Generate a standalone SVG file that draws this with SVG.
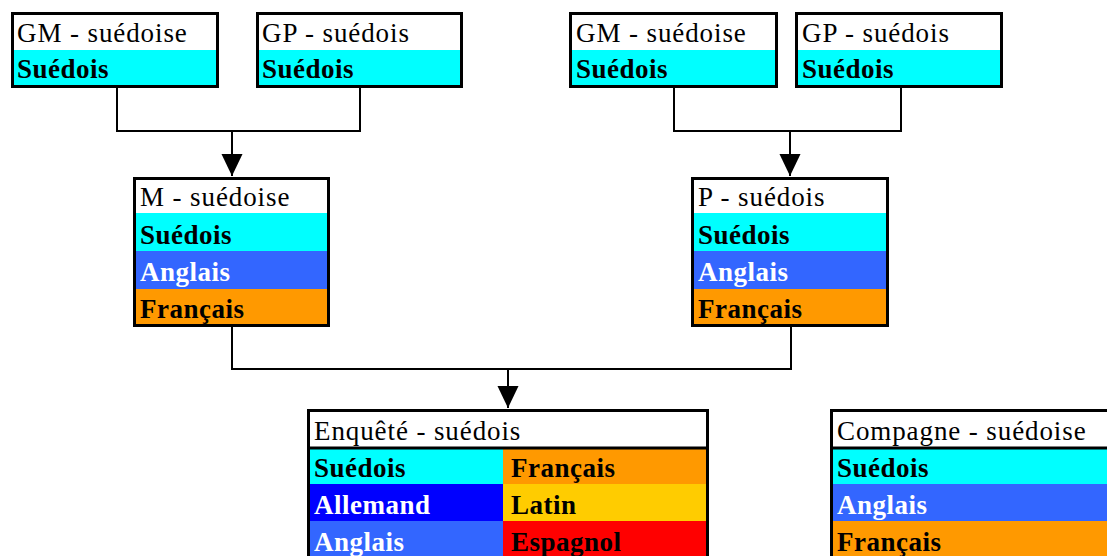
<svg xmlns="http://www.w3.org/2000/svg" width="1107" height="556" viewBox="0 0 1107 556">
<style>
.t{font-family:"Liberation Serif","Times New Roman",serif;font-size:27px;letter-spacing:0.9px;fill:#000}
.b{font-family:"Liberation Serif","Times New Roman",serif;font-size:27px;font-weight:bold;letter-spacing:0.5px;fill:#000}
.w{fill:#fff}
.frame{fill:none;stroke:#000;stroke-width:3}
.conn{fill:none;stroke:#000;stroke-width:2}
.cy{fill:#00ffff}.bl{fill:#3366ff}.or{fill:#ff9900}.db{fill:#0000ff}.ye{fill:#ffcc00}.rd{fill:#ff0000}.wh{fill:#fff}
</style>
<defs>
<marker id="arr" markerUnits="userSpaceOnUse" markerWidth="22" markerHeight="24" refX="23" refY="11" orient="auto" viewBox="0 0 23 22">
<path d="M0,0 L23,11 L0,22 Z" fill="#000"/>
</marker>
</defs>
<g id="connectors">
<path class="conn" d="M117,88 V131 H360 V88"/>
<path class="conn" d="M232,131 V176" marker-end="url(#arr)"/>
<path class="conn" d="M674,88 V131 H901 V88"/>
<path class="conn" d="M790,131 V176" marker-end="url(#arr)"/>
<path class="conn" d="M232,327 V369 H791 V327"/>
<path class="conn" d="M508,369 V408" marker-end="url(#arr)"/>
</g>
<g id="gm-left">
<rect class="wh" x="11" y="12" width="208" height="38"/>
<rect class="cy" x="11" y="50" width="208" height="38"/>
<rect class="frame" x="12.5" y="13.5" width="205" height="73"/>
<text class="t" x="17" y="42">GM - suédoise</text>
<text class="b" x="17" y="78">Suédois</text>
</g>
<g id="gp-left">
<rect class="wh" x="256" y="12" width="207" height="38"/>
<rect class="cy" x="256" y="50" width="207" height="38"/>
<rect class="frame" x="257.5" y="13.5" width="204" height="73"/>
<text class="t" x="262" y="42">GP - suédois</text>
<text class="b" x="262" y="78">Suédois</text>
</g>
<g id="gm-right">
<rect class="wh" x="569" y="12" width="209" height="38"/>
<rect class="cy" x="569" y="50" width="209" height="38"/>
<rect class="frame" x="570.5" y="13.5" width="206" height="73"/>
<text class="t" x="576" y="42">GM - suédoise</text>
<text class="b" x="576" y="78">Suédois</text>
</g>
<g id="gp-right">
<rect class="wh" x="795" y="12" width="208" height="38"/>
<rect class="cy" x="795" y="50" width="208" height="38"/>
<rect class="frame" x="796.5" y="13.5" width="205" height="73"/>
<text class="t" x="802" y="42">GP - suédois</text>
<text class="b" x="802" y="78">Suédois</text>
</g>
<g id="m">
<rect class="wh" x="133" y="177" width="197" height="36"/>
<rect class="cy" x="133" y="213" width="197" height="38"/>
<rect class="bl" x="133" y="251" width="197" height="38"/>
<rect class="or" x="133" y="289" width="197" height="38"/>
<rect class="frame" x="134.5" y="178.5" width="194" height="147"/>
<text class="t" x="140" y="206">M - suédoise</text>
<text class="b" x="140" y="244">Suédois</text>
<text class="b w" x="140" y="281">Anglais</text>
<text class="b" x="140" y="318">Français</text>
</g>
<g id="p">
<rect class="wh" x="691" y="177" width="198" height="36"/>
<rect class="cy" x="691" y="213" width="198" height="38"/>
<rect class="bl" x="691" y="251" width="198" height="38"/>
<rect class="or" x="691" y="289" width="198" height="38"/>
<rect class="frame" x="692.5" y="178.5" width="195" height="147"/>
<text class="t" x="698" y="206">P - suédois</text>
<text class="b" x="698" y="244">Suédois</text>
<text class="b w" x="698" y="281">Anglais</text>
<text class="b" x="698" y="318">Français</text>
</g>
<g id="enquete">
<rect class="wh" x="307" y="409" width="402" height="39"/>
<rect class="cy" x="307" y="448" width="196" height="36"/>
<rect class="db" x="307" y="484" width="196" height="37"/>
<rect class="bl" x="307" y="521" width="196" height="40"/>
<rect class="or" x="503" y="448" width="206" height="36"/>
<rect class="ye" x="503" y="484" width="206" height="37"/>
<rect class="rd" x="503" y="521" width="206" height="40"/>
<path d="M308.5,560 V410.5 H707.5 V560" fill="none" stroke="#000" stroke-width="3"/>
<line x1="309" y1="448" x2="707" y2="448" stroke="#000" stroke-width="3"/>
<text class="t" x="314" y="440">Enquêté - suédois</text>
<text class="b" x="314" y="477">Suédois</text>
<text class="b w" x="314" y="514">Allemand</text>
<text class="b w" x="314" y="551">Anglais</text>
<text class="b" x="511" y="477">Français</text>
<text class="b" x="511" y="514">Latin</text>
<text class="b" x="511" y="551">Espagnol</text>
</g>
<g id="compagne">
<rect class="wh" x="830" y="409" width="290" height="39"/>
<rect class="cy" x="830" y="448" width="290" height="36"/>
<rect class="bl" x="830" y="484" width="290" height="37"/>
<rect class="or" x="830" y="521" width="290" height="40"/>
<path d="M831.5,560 V410.5 H1120" fill="none" stroke="#000" stroke-width="3"/>
<line x1="832" y1="448" x2="1120" y2="448" stroke="#000" stroke-width="3"/>
<text class="t" x="837" y="440">Compagne - suédoise</text>
<text class="b" x="837" y="477">Suédois</text>
<text class="b w" x="837" y="514">Anglais</text>
<text class="b" x="837" y="551">Français</text>
</g>
</svg>
